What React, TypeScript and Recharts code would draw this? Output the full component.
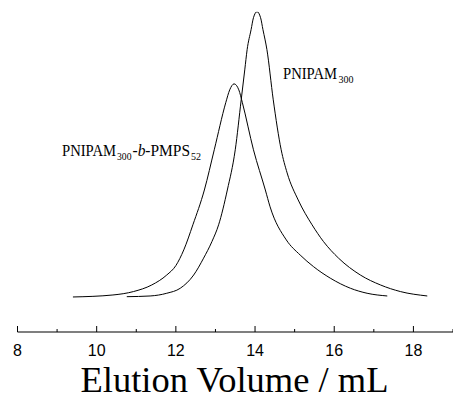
import React from "react";
import { LineChart, Line, XAxis, YAxis, Customized } from "recharts";

// Elution volume (mL) and normalised RI intensity
const pnipamX = [10.76, 11.35, 11.77, 12.11, 12.45, 12.7, 12.91, 13.08, 13.3, 13.5, 13.65, 13.74, 13.8, 13.9, 13.96, 14.05, 14.14, 14.2, 14.3, 14.46, 14.66, 14.81, 15.09, 15.44, 15.73, 16.11, 16.66, 17.17, 17.67, 18.35];
const pnipamY = [0.1, 0.35, 1.3, 3.05, 7.7, 13.6, 19.4, 25.3, 37.5, 51.6, 69.1, 79.6, 86.7, 93.7, 97.9, 100, 97.9, 93.7, 86.7, 69.1, 51.6, 43.5, 34.0, 25.3, 19.4, 13.6, 7.7, 4.2, 1.9, 0.35];

const blockX = [9.4, 10.41, 10.93, 11.39, 11.77, 12.0, 12.2, 12.43, 12.72, 12.97, 13.26, 13.36, 13.47, 13.59, 13.68, 13.96, 14.26, 14.38, 14.79, 15.14, 15.48, 15.9, 16.41, 16.83, 17.34];
const blockY = [0, 0.7, 1.9, 4.2, 7.7, 11.0, 16.5, 25.3, 37.5, 51.6, 68.1, 72.6, 74.7, 72.6, 68.1, 51.6, 37.5, 31.6, 20.0, 14.7, 10.6, 6.6, 3.05, 1.3, 0.35];

const xTicks = [8, 9, 10, 11, 12, 13, 14, 15, 16, 17, 18, 19];
const xLabel = "Elution Volume / mL";

const pnipamData = pnipamX.map((x, i) => ({ x, y: pnipamY[i] }));
const blockData = blockX.map((x, i) => ({ x, y: blockY[i] }));

const SERIF = "'Liberation Serif', 'Times New Roman', serif";
const SANS = "'Liberation Sans', Arial, sans-serif";

const Tick = (props: any) => {
  const { x, y, payload } = props;
  const v = payload.value;
  const major = v % 2 === 0;
  return (
    <g>
      <line x1={x} x2={x} y1={y} y2={y - (major ? 6 : 3)} stroke="#000" strokeWidth={1} />
      {major && (
        <text x={x} y={y + 23.5} textAnchor="middle" fontFamily={SANS} fontSize={16} fill="#000">
          {v}
        </text>
      )}
    </g>
  );
};

const Texts = () => (
  <g fill="#000" fontFamily={SERIF}>
    <text x={283} y={79} fontSize={16} textLength={54} lengthAdjust="spacingAndGlyphs">PNIPAM</text>
    <text x={338.5} y={82.5} fontSize={10} textLength={15} lengthAdjust="spacingAndGlyphs">300</text>

    <text x={62} y={156} fontSize={16} textLength={54} lengthAdjust="spacingAndGlyphs">PNIPAM</text>
    <text x={117} y={160} fontSize={10} textLength={14.5} lengthAdjust="spacingAndGlyphs">300</text>
    <text x={132.5} y={156} fontSize={16} textLength={57.5} lengthAdjust="spacingAndGlyphs">
      -<tspan fontStyle="italic">b</tspan>-PMPS
    </text>
    <text x={191} y={160} fontSize={10} textLength={10} lengthAdjust="spacingAndGlyphs">52</text>

    <text x={234.5} y={392} fontSize={36.5} textAnchor="middle">{xLabel}</text>
  </g>
);

export default function App() {
  return (
    <div style={{ position: "absolute", left: 0, top: 0, width: 453, height: 396, background: "#fff" }}>
      <LineChart width={453} height={396} margin={{ top: 11.7, right: 0, bottom: 0, left: 17.5 }}>
        <XAxis
          dataKey="x"
          type="number"
          domain={[8, 19]}
          ticks={xTicks}
          height={64}
          tickSize={0}
          tickMargin={0}
          tickLine={false}
          axisLine={{ stroke: "#000", strokeWidth: 1.2 }}
          tick={<Tick />}
          interval={0}
          allowDataOverflow
        />
        <YAxis hide type="number" domain={[-12.28, 100]} allowDataOverflow />
        <Line data={blockData} dataKey="y" type="monotone" stroke="#000" strokeWidth={1} dot={false} isAnimationActive={false} />
        <Line data={pnipamData} dataKey="y" type="monotone" stroke="#000" strokeWidth={1} dot={false} isAnimationActive={false} />
        <Customized component={Texts} />
      </LineChart>
    </div>
  );
}
